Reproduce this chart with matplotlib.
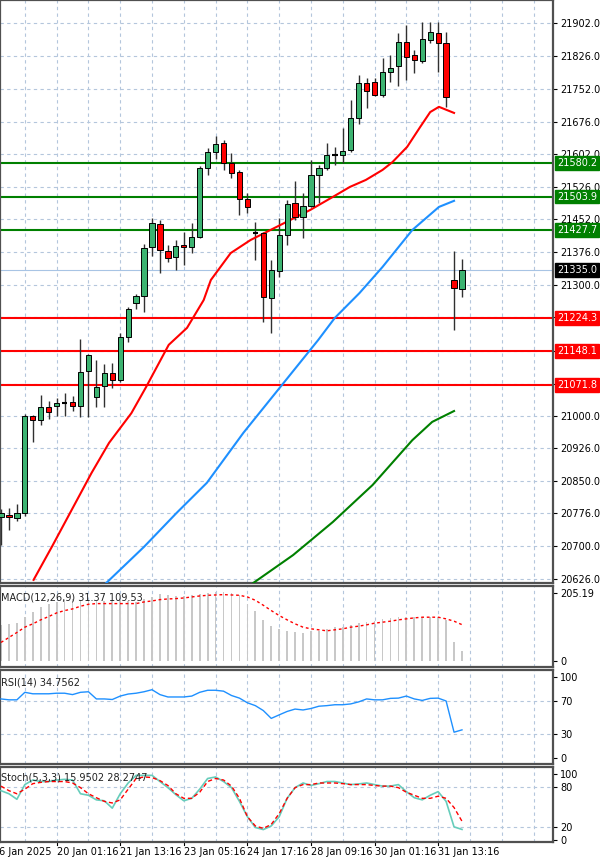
import matplotlib
matplotlib.use("Agg")
import matplotlib.pyplot as plt
import matplotlib.transforms as mtrans
import numpy as np

opens  = [20768,20773,20766,20777,21000,20990,21020,21023,21030,21032,21022,21103,21043,21069,21098,21082,21181,21260,21275,21388,
          21441,21378,21365,21392,21388,21411,21569,21606,21627,21581,21560,21498,21421,21420,21271,21333,21415,21489,21457,21482,
          21553,21569,21599,21599,21611,21684,21765,21767,21737,21790,21804,21859,21830,21815,21864,21880,21857,21312,21291]
closes = [20777,20768,20777,21000,20991,21021,21009,21030,21031,21023,21101,21140,21067,21099,21082,21181,21246,21275,21386,21443,
          21381,21362,21390,21388,21410,21569,21606,21625,21581,21558,21498,21480,21419,21273,21335,21415,21487,21457,21482,21553,
          21569,21599,21600,21609,21684,21765,21746,21737,21790,21799,21859,21825,21818,21866,21882,21857,21733,21294,21335]
highs  = [20785,20789,20797,21004,21003,21048,21034,21041,21052,21045,21176,21142,21128,21119,21121,21190,21250,21280,21395,21455,
          21450,21392,21403,21422,21443,21575,21615,21643,21634,21604,21565,21512,21446,21422,21358,21455,21496,21540,21512,21588,
          21576,21627,21618,21661,21726,21783,21776,21776,21822,21829,21880,21898,21841,21905,21905,21905,21882,21379,21360]
lows   = [20703,20737,20759,20770,20940,20979,20993,21000,21000,21011,20998,20998,21020,21020,21064,21078,21170,21245,21238,21367,
          21328,21354,21335,21347,21374,21408,21553,21590,21565,21547,21461,21466,21358,21216,21190,21320,21393,21450,21409,21480,
          21489,21565,21576,21581,21607,21671,21707,21735,21733,21767,21758,21772,21788,21811,21857,21790,21710,21197,21273]

ma_red_x = [4.1,6.4,11.4,13.6,16.4,18.25,21.1,23.4,25.5,26.4,28.9,31.4,33.9,36.4,38.9,41.75,43.9,45.9,48,49.25,51.1,52.75,54,55.1,57]
ma_red_y = [20623,20699,20869,20938,21006,21066,21163,21202,21266,21312,21374,21404,21427,21450,21473,21503,21526,21542,21565,21583,21618,21664,21698,21710,21696]
ma_blue_x = [13.25,18,22.1,25.9,30.5,39.9,42,45.1,48,51.75,55.1,57]
ma_blue_y = [20616,20699,20777,20846,20961,21174,21225,21282,21342,21427,21480,21494]
ma_green_x = [31.75,36.75,41.75,46.75,51.75,54.25,57]
ma_green_y = [20616,20680,20756,20841,20944,20986,21011]

green_levels = [21580.2, 21503.9, 21427.7]
red_levels = [21224.3, 21148.1, 21071.8]
current_price = 21335.0
price_ticks = [21902,21826,21752,21676,21602,21526,21452,21376,21300,21226,21150,21074,21000,20926,20850,20776,20700,20626]
hidden_ticks = [21226,21150,21074]

macd_hist = [108,112,114,134,149,163,171,178,183,186,183,181,180,180,181,183,181,178,188,193,201,198,195,195,198,201,205,208,208,205,
             198,173,152,124,107,96,91,86,84,91,91,96,102,104,110,114,117,122,127,129,132,134,134,132,132,132,124,58,31.37]
macd_signal = [56,71,86,102,112,124,134,145,152,157,165,171,173,173,173,173,173,173,178,181,185,187,188,190,193,196,198,199,200,199,
               198,193,183,168,152,137,124,112,102,97,94,91,94,97,102,105,109,114,117,120,124,127,130,132,132,132,127,120,109.53]
rsi = [72.6,71.5,71.5,80.7,78.9,78.9,78.9,79.6,79.6,77.9,80.7,81.4,72.6,72.6,71.9,76.1,78.6,79.6,81.4,83.9,77.9,75.0,75.0,75.0,76.1,
       80.7,83.2,83.2,82.1,76.8,73.6,67.9,64.4,58.4,48.8,53.1,57.3,60.2,59.1,60.9,63.7,64.4,65.5,65.5,66.5,69.0,72.6,71.5,71.5,73.3,
       73.6,76.1,72.6,70.8,73.3,73.6,70.1,31.9,34.76]
stoch_main = [74.3,69.7,61.4,83.5,90.4,88.1,88.1,90.4,91.4,90.4,69.7,67.4,60.5,59.1,48.0,69.7,85.9,97.4,97.4,97.4,88.1,78.9,68.3,59.1,
              62.8,76.6,92.7,95.0,88.1,78.9,58.2,35.1,18.9,15.7,21.2,35.1,62.8,78.9,85.9,82.2,84.9,88.1,88.1,85.9,83.5,84.5,85.9,83.5,
              81.2,81.2,83.5,72.9,63.7,60.5,67.4,72.9,58.2,19.8,15.95]
stoch_sig = [81.2,74.3,69.7,76.6,84.9,86.8,88.1,88.1,88.1,85.9,78.9,69.7,63.7,58.2,55.8,60.5,76.6,92.7,95.0,94.1,89.5,82.1,69.7,62.8,
             62.8,72.0,88.1,92.7,90.4,81.2,62.8,35.1,21.2,17.5,23.5,39.7,62.8,78.9,83.5,83.5,85.9,85.9,85.9,84.9,83.5,83.5,83.5,82.1,
             81.2,81.2,78.9,72.0,67.4,62.8,62.8,66.0,62.8,48.9,28.27]
date_pos = [-1,7,15,23,31,39,47,55]
date_labels = ["16 Jan 2025","20 Jan 01:16","21 Jan 13:16","23 Jan 05:16","24 Jan 17:16","28 Jan 09:16","30 Jan 01:16","31 Jan 13:16"]

W, H = 600, 857
fig = plt.figure(figsize=(6, 8.57), dpi=100)
def axpix(top, bottom, right=553):
    return fig.add_axes([0, 1 - bottom / H, right / W, (bottom - top) / H])

XL = (-0.126, 69.45)
GRID = dict(color="#b4c6dc", linestyle=(0, (3, 3)), linewidth=0.8)
FS = 7
ax = axpix(0, 583)
ax_m = axpix(586, 667)
ax_r = axpix(670, 764)
ax_s = axpix(767, 842)
n = len(opens)
idx = np.arange(n)
vgrid = np.arange(3, 70, 4)
for a in (ax, ax_m, ax_r, ax_s):
    a.set_xlim(*XL)
    a.set_xticks([])
    for v in vgrid:
        a.axvline(v, **GRID, zorder=0)
    for s in a.spines.values():
        s.set_color("#505050")
        s.set_linewidth(1.6)
    a.yaxis.tick_right()
    a.tick_params(axis="y", length=3, labelsize=FS, pad=2, colors="black")

# main
ax.set_ylim(20615.8, 21955.5)
for p in price_ticks:
    ax.axhline(p, **GRID, zorder=0)
ax.set_yticks(price_ticks)
ax.set_yticklabels(["" if p in hidden_ticks else f"{p:.1f}" for p in price_ticks])
ax.axhline(current_price, color="#a8c4e4", lw=0.8, zorder=1)
for lv in green_levels:
    ax.axhline(lv, color="#008000", lw=1.5, zorder=2)
for lv in red_levels:
    ax.axhline(lv, color="#ff0000", lw=1.5, zorder=2)
for i in idx:
    o, c, h, l = opens[i], closes[i], highs[i], lows[i]
    ax.vlines(i, l, h, color="#303030", lw=1, zorder=3)
    col = "#3cb371" if c >= o else "#ff0000"
    bh = abs(c - o)
    if bh < 2.5:
        ax.hlines((o + c) / 2, i - 0.35, i + 0.35, color="black", lw=1.5, zorder=4)
    else:
        ax.add_patch(plt.Rectangle((i - 0.33, min(o, c)), 0.66, bh, facecolor=col,
                                   edgecolor="black", lw=0.7, zorder=4))
ax.plot(ma_red_x, ma_red_y, color="#ff0000", lw=1.5, zorder=3)
ax.plot(ma_blue_x, ma_blue_y, color="#1e90ff", lw=1.5, zorder=3)
ax.plot(ma_green_x, ma_green_y, color="#008000", lw=1.5, zorder=3)
tr = ax.get_yaxis_transform()
def box(lv, fc):
    ax.text(1.0075, lv, f"{lv:.1f}", transform=tr, color="white", fontsize=FS, va="center", ha="left",
            bbox=dict(boxstyle="square,pad=0.2", fc=fc, ec=fc), zorder=10, clip_on=False)
for lv in green_levels:
    box(lv, "#008000")
for lv in red_levels:
    box(lv, "#ff0000")
box(current_price, "black")

# MACD
ax_m.set_ylim(-18, 226)
ax_m.bar(idx, macd_hist, width=0.22, color="#c8c8c8", zorder=2)
ax_m.plot(idx, macd_signal, color="#ff0000", lw=1, linestyle=(0, (2, 2)), zorder=3)
ax_m.set_yticks([0, 205.19])
ax_m.set_yticklabels(["0", "205.19"])
ax_m.text(0.002, 0.92, "MACD(12,26,9) 31.37 109.53", transform=ax_m.transAxes, fontsize=FS, va="top", ha="left", color="#202020")

# RSI
ax_r.set_ylim(-7, 108)
for lv in (70, 30):
    ax_r.axhline(lv, **GRID, zorder=0)
ax_r.plot(idx, rsi, color="#1e90ff", lw=1, zorder=3)
ax_r.set_yticks([100, 70, 30, 0])
ax_r.set_yticklabels(["100", "70", "30", "0"])
ax_r.text(0.002, 0.92, "RSI(14) 34.7562", transform=ax_r.transAxes, fontsize=FS, va="top", ha="left", color="#202020")

# Stoch
ax_s.set_ylim(-3, 110)
for lv in (80, 20):
    ax_s.axhline(lv, **GRID, zorder=0)
ax_s.plot(idx, stoch_main, color="#66cdbb", lw=1.2, zorder=3)
ax_s.plot(idx, stoch_sig, color="#ff0000", lw=1, linestyle=(0, (3, 2)), zorder=3)
ax_s.set_yticks([100, 80, 20, 0])
ax_s.set_yticklabels(["100", "80", "20", "0"])
ax_s.text(0.002, 0.93, "Stoch(5,3,3) 15.9502 28.2747", transform=ax_s.transAxes, fontsize=FS, va="top", ha="left", color="#202020")
btr = mtrans.blended_transform_factory(ax_s.transData, ax_s.transAxes)
for p, lab in zip(date_pos, date_labels):
    ax_s.text(p, -0.07, lab, transform=btr, fontsize=FS, va="top", ha="left", clip_on=False)
    ax_s.plot([p, p], [0, -0.04], transform=btr, color="black", lw=0.8, clip_on=False)

fig.savefig("out.png", dpi=100, facecolor="white")
